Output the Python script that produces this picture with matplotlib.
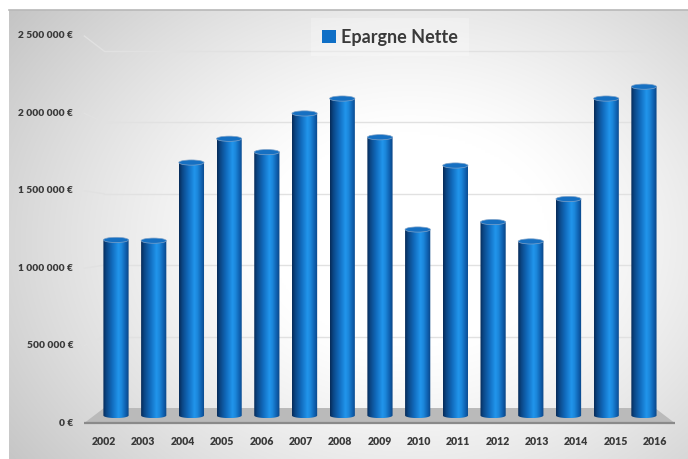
import numpy as np
import matplotlib
matplotlib.use("Agg")
import matplotlib.pyplot as plt
from matplotlib.path import Path
from matplotlib.patches import PathPatch, Ellipse, Polygon, Patch
from matplotlib.transforms import offset_copy

# Net savings per year (euros)
years = ["2002", "2003", "2004", "2005", "2006", "2007", "2008", "2009",
         "2010", "2011", "2012", "2013", "2014", "2015", "2016"]
savings = [1180000, 1175000, 1700000, 1860000, 1770000, 2030000, 2130000, 1870000,
           1250000, 1680000, 1300000, 1170000, 1455000, 2130000, 2210000]
y_ticks = [0, 500000, 1000000, 1500000, 2000000, 2500000]
y_tick_labels = ["0 €", "500 000 €", "1 000 000 €", "1 500 000 €", "2 000 000 €", "2 500 000 €"]
series_name = "Epargne Nette"

W, H, DPI = 688, 459, 100
FONT = "Lato"
TEXT_COLOR = "#3a3a3a"


def plane_limits(x_first, x_step, y_zero, y_per_million):
    """Axis limits so that index 0 sits at pixel x_first and value 0 at pixel row y_zero."""
    x0 = -x_first / x_step
    x1 = x0 + W / x_step
    scale = y_per_million / 1e6
    y_top = y_zero / scale
    y_bot = -(H - y_zero) / scale
    return (x0, x1), (y_bot, y_top)


def make_plane(fig, x_first, x_step, y_zero, y_per_million, zorder):
    a = fig.add_axes([0, 0, 1, 1], zorder=zorder)
    xl, yl = plane_limits(x_first, x_step, y_zero, y_per_million)
    a.set_xlim(*xl)
    a.set_ylim(*yl)
    a.patch.set_visible(False)
    a.axis("off")
    return a


fig = plt.figure(figsize=(W / DPI, H / DPI), dpi=DPI)

# chart area background with a soft radial highlight
bg = fig.add_axes([9 / W, 0, 1 - 9 / W, (H - 10) / H], zorder=0)
gx, gy = np.meshgrid(np.linspace(9, W, 300), np.linspace(10, H, 200))
d = np.sqrt(((gx - 410) / 400) ** 2 + ((gy - 240) / 310) ** 2)
t = np.clip((d - 0.35) / 0.8, 0, 1.3)
shade = 1 - 0.2 * t ** 1.2
bg.imshow(np.dstack([shade] * 3), extent=[0, 1, 0, 1], origin="upper",
          aspect="auto", interpolation="bilinear")
bg.axis("off")
bg.plot([0, 1], [1, 1], color="#b8b8b8", lw=1.2, transform=bg.transAxes, clip_on=False)

n = len(years)
idx = np.arange(n)

# three depth planes: back wall, bar plane, front edge
ax_back = make_plane(fig, 104 + 0.5 * 36.73, 36.73, 408, 142.8, 1)
ax = make_plane(fig, 116, 37.71, 415.5, 148.8, 2)
ax_front = make_plane(fig, 104, 39.36, 423, 154.8, 3)

grid_color = "#e1e1e1"
left, right = -0.5, n - 0.5
for v in y_ticks[1:]:
    ax_back.plot([left, right], [v, v], color=grid_color, lw=1.0)
    # side wall segment joining front edge to back wall
    p_front = ax_front.transData.transform((left, v))
    p_back = ax_back.transData.transform((left, v))
    ax_back.add_line(plt.Line2D([p_front[0], p_back[0]], [p_front[1], p_back[1]],
                                transform=None, color=grid_color, lw=1.0))

# floor
corners = [ax_front.transData.transform((left, 0)), ax_front.transData.transform((right, 0)),
           ax_back.transData.transform((right, 0)), ax_back.transData.transform((left, 0))]
ax_back.add_patch(Polygon(corners, closed=True, transform=None,
                          facecolor="#bababa", edgecolor="none"))
ax_front.plot([left, right], [0, 0], color="#8a8a8a", lw=1.6, solid_capstyle="butt")

# cylinder shading, left to right
stops = [(0.0, "#072c58"), (0.12, "#0b4685"), (0.35, "#116bbd"), (0.6, "#2195ec"),
         (0.72, "#1b86da"), (0.88, "#0f5fae"), (1.0, "#0a4584")]
pos = np.linspace(0, 1, 64)
cols = np.array([matplotlib.colors.to_rgb(c) for _, c in stops])
grad = np.stack([np.interp(pos, [s for s, _ in stops], cols[:, k]) for k in range(3)], axis=-1)
grad = grad[np.newaxis, :, :]

px_per_unit = ax.transData.transform((0, 1e6))[1] - ax.transData.transform((0, 0))[1]
ey = 2.6 / px_per_unit * 1e6
hw = 12.6 / 37.71

for i, v in zip(idx, savings):
    th = np.linspace(np.pi, 2 * np.pi, 40)
    xs = np.concatenate([[i - hw], i + hw * np.cos(th), [i + hw]])
    ys = np.concatenate([[v], ey * np.sin(th), [v]])
    verts = np.column_stack([xs, ys])
    body = PathPatch(Path(np.vstack([verts, verts[:1]]), closed=True),
                     facecolor="none", edgecolor="none", transform=ax.transData)
    ax.add_patch(body)
    im = ax.imshow(grad, extent=[i - hw, i + hw, -ey, v], aspect="auto",
                   interpolation="bilinear", zorder=2)
    im.set_clip_path(body)
    ax.add_patch(Ellipse((i, v), 2 * hw, 2 * ey, facecolor="#1670c2",
                         edgecolor="#7fa2c8", lw=0.5, zorder=3))

ax.set_xlim(*plane_limits(116, 37.71, 415.5, 148.8)[0])
ax.set_ylim(*plane_limits(116, 37.71, 415.5, 148.8)[1])

# value labels on the front edge
tick_tf = offset_copy(ax_front.transData, fig=fig, x=-11, y=0, units="dots")
for v, lab in zip(y_ticks, y_tick_labels):
    ax_front.text(left, v, lab, transform=tick_tf, ha="right", va="center",
                  fontsize=7.3, fontweight="heavy", color=TEXT_COLOR, family=FONT)

year_tf = offset_copy(ax_front.transData, fig=fig, x=0, y=-18.5, units="dots")
for i, lab in zip(idx, years):
    ax_front.text(i, 0, lab, transform=year_tf, ha="center", va="center",
                  fontsize=7.6, fontweight="heavy", color=TEXT_COLOR, family=FONT)

leg = ax_front.legend(handles=[Patch(facecolor="#0f6fc6", edgecolor="none", label=series_name)],
                      loc="center", bbox_to_anchor=(390 / W, 1 - 37 / H),
                      bbox_transform=fig.transFigure, frameon=True, handlelength=0.75,
                      handleheight=0.75, handletextpad=0.3, borderpad=0.6,
                      prop={"family": FONT, "weight": "bold", "size": 13})
leg.get_frame().set_facecolor("white")
leg.get_frame().set_alpha(0.25)
leg.get_frame().set_edgecolor("none")
leg.get_frame().set_boxstyle("square", pad=0.0)
for txt in leg.get_texts():
    txt.set_color(TEXT_COLOR)

fig.savefig("out.png", dpi=DPI)
